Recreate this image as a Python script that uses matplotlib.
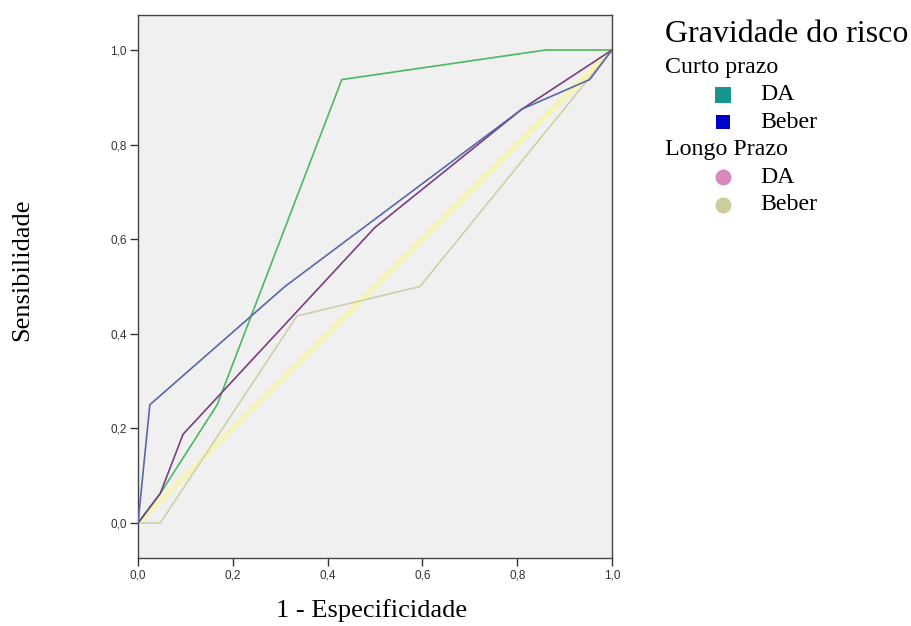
import matplotlib
matplotlib.use("Agg")
import matplotlib.pyplot as plt
from matplotlib.lines import Line2D

# Data (1 - Especificidade, Sensibilidade)
ref_x = [0.0, 1.0]
ref_y = [0.0, 1.0]

curto_da_x = [0.0, 0.047, 0.167, 0.43, 0.86, 1.0]
curto_da_y = [0.0, 0.0625, 0.25, 0.9375, 1.0, 1.0]

curto_beber_x = [0.0, 0.025, 0.31, 0.81, 0.953, 1.0]
curto_beber_y = [0.0, 0.25, 0.5, 0.875, 0.9375, 1.0]

longo_da_x = [0.0, 0.047, 0.095, 0.5, 0.81, 1.0]
longo_da_y = [0.0, 0.0625, 0.1875, 0.625, 0.875, 1.0]

longo_beber_x = [0.0, 0.047, 0.335, 0.595, 1.0]
longo_beber_y = [0.0, 0.0, 0.4375, 0.5, 1.0]

ticks = [0.0, 0.2, 0.4, 0.6, 0.8, 1.0]
tick_labels = ["0,0", "0,2", "0,4", "0,6", "0,8", "1,0"]

fig = plt.figure(figsize=(9.11, 6.26), dpi=100)
ax = fig.add_axes([138/911, 1-558/626, 474/911, 543/626])
ax.set_facecolor("#f0f0f0")

ax.plot(ref_x, ref_y, color="#f6f4b4", lw=3.6, solid_capstyle="butt", zorder=1)
ax.plot(longo_beber_x, longo_beber_y, color="#cfcfa8", lw=1.2, zorder=2)
ax.plot(curto_da_x, curto_da_y, color="#4cb860", lw=1.2, zorder=3)
ax.plot(longo_da_x, longo_da_y, color="#7a3d80", lw=1.2, zorder=4)
ax.plot(curto_beber_x, curto_beber_y, color="#5868a8", lw=1.2, zorder=5)

ax.set_xlim(0, 1)
ax.set_ylim((523-558)/473, (523-15)/473)
ax.set_xticks(ticks)
ax.set_xticklabels(tick_labels, family="Liberation Sans", fontsize=8.5)
ax.set_yticks(ticks)
ax.set_yticklabels(tick_labels, family="Liberation Sans", fontsize=8.5)
ax.tick_params(direction="out", length=6, width=1, colors="#333333", pad=2)
for s in ax.spines.values():
    s.set_color("#444444")
    s.set_linewidth(1.0)

fig.text(372/911, 1-611/626, "1 - Especificidade", family="Liberation Serif",
         fontsize=19, ha="center", va="center")
fig.text(22/911, 1-270/626, "Sensibilidade", family="Liberation Serif",
         fontsize=19, ha="center", va="center", rotation=90)

# Legend
serif = "Liberation Serif"
fig.text(665/911, 1-35/626, "Gravidade do risco", family=serif, fontsize=23, ha="left", va="center")
fig.text(665/911, 1-67/626, "Curto prazo", family=serif, fontsize=17.2, ha="left", va="center")
fig.text(665/911, 1-150/626, "Longo Prazo", family=serif, fontsize=17.2, ha="left", va="center")
entries = [
    (95, "DA", "s", "#17958f", 11.5),
    (122, "Beber", "s", "#0000c8", 10),
    (177, "DA", "o", "#d98abd", 11.5),
    (205, "Beber", "o", "#cccc9c", 11.5),
]
for y, lab, mk, col, ms in entries:
    fig.add_artist(Line2D([723/911], [1-y/626], marker=mk, color=col, markersize=ms,
                          markeredgewidth=0, linestyle="none", transform=fig.transFigure))
    fig.text(760/911, 1-y/626, lab, family=serif, fontsize=17.2, ha="left", va="center")

fig.savefig("out.png", dpi=100)
